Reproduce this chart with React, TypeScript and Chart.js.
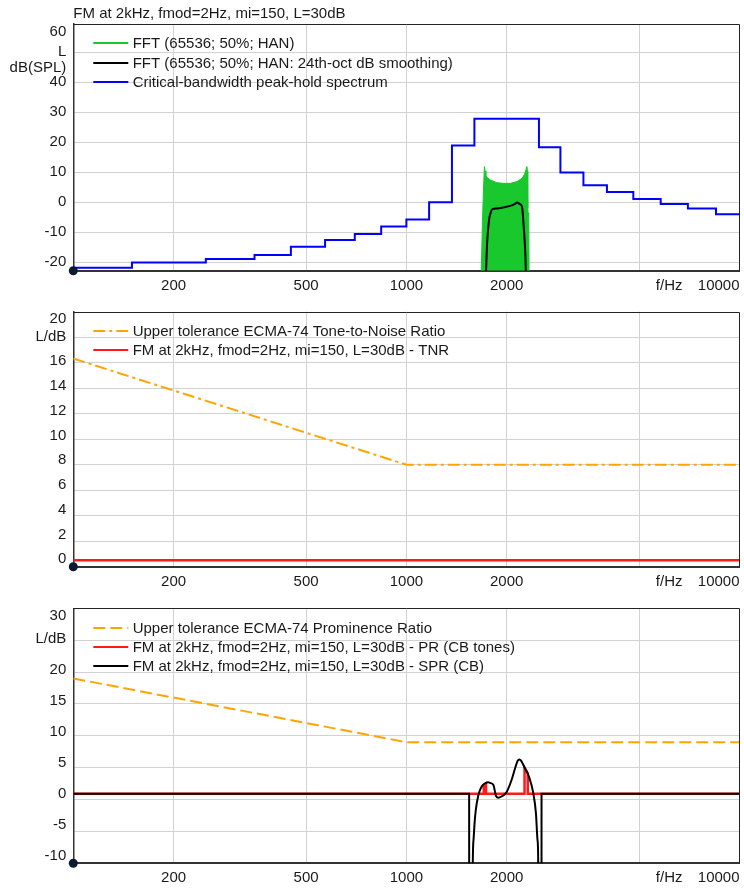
import { useEffect, useRef } from 'react';
import { Chart, registerables } from 'chart.js';

Chart.register(...registerables);

const FONT_FAMILY = '"Liberation Sans", Arial, Helvetica, sans-serif';
const TEXT = '#1a1a1a';
const GRID = '#d2d2d2';
const AXIS = '#333333';
const FRAME = '#222222';
const DOT = '#0c1a33';
const BLUE = '#0000ff';
const GREEN = '#18c82c';
const BLACK = '#000000';
const RED = '#ff1a1a';
const ORANGE = '#ffa500';

// ---------- shared x axis ----------
const X_MIN = 100;
const X_MAX = 10000;
const xGridValues = [200, 500, 1000, 2000, 5000];
const xTickValues = [100, 200, 500, 1000, 2000, 6150, 10000];
const xTickLabels = ['', '200', '500', '1000', '2000', 'f/Hz', '10000'];

// ---------- panel 1 : spectrum ----------
const p1Title = 'FM at 2kHz, fmod=2Hz, mi=150, L=30dB';
const p1YRange = [-22.8, 59.4];
const p1YGrid = [-20, -10, 0, 10, 20, 30, 40, 50];
const p1YTickValues = [-20, -10, 0, 10, 20, 30, 40, 50, 60];
const p1YTickLabels = ['-20', '-10', '0', '10', '20', '30', '40', 'L', '60'];
const p1YUnit = 'dB(SPL)';

const fftLabel = 'FFT (65536; 50%; HAN)';
const fftFreq = [1672, 1692, 1706, 1715, 1722, 1732, 1745, 1788, 1872, 1959, 2051, 2149, 2224, 2262, 2285, 2300, 2308, 2314, 2322, 2330, 2336];
const fftLevel = [-30, -6, 6, 11.9, 10.5, 9.0, 8.3, 7.4, 6.5, 6.3, 6.3, 6.9, 8.0, 9.3, 10.8, 11.9, 10.5, -2, -4, -3.6, -30];

const smoothLabel = 'FFT (65536; 50%; HAN: 24th-oct dB smoothing)';
const smoothFreq = [1726, 1747, 1770, 1788, 1813, 1872, 1959, 2051, 2120, 2149, 2190, 2224, 2250, 2275, 2292];
const smoothLevel = [-30, -13.7, -6, -3.7, -2.3, -2.1, -1.7, -1.2, -0.5, -0.1, -0.6, -1.5, -8.1, -17, -30];

const cbLabel = 'Critical-bandwidth peak-hold spectrum';
const cbFreq = [100, 150, 250, 350, 450, 570, 700, 840, 1000, 1170, 1370, 1600, 2500, 2900, 3400, 4000, 4800, 5800, 7000, 8500, 10000];
const cbLevel = [-21.8, -20.1, -18.9, -17.6, -14.8, -12.6, -10.6, -8.1, -5.7, 0.0, 18.9, 27.8, 18.3, 9.9, 5.7, 3.4, 1.1, -0.6, -2.1, -4.0, -4.0];

// ---------- panel 2 : TNR ----------
const p2YRange = [0, 20];
const p2YGrid = [2, 4, 6, 8, 10, 12, 14, 16, 18];
const p2YTickValues = [0, 2, 4, 6, 8, 10, 12, 14, 16, 18, 20];
const p2YTickLabels = ['0', '2', '4', '6', '8', '10', '12', '14', '16', 'L/dB', '20'];

const tnrTolLabel = 'Upper tolerance ECMA-74 Tone-to-Noise Ratio';
const tolFreq = [100, 1000, 10000];
const tnrTolLevel = [16.33, 8, 8];

const tnrLabel = 'FM at 2kHz, fmod=2Hz, mi=150, L=30dB - TNR';
const tnrFreq = [100, 10000];
const tnrLevel = [0.5, 0.5];

// ---------- panel 3 : PR ----------
const p3YRange = [-10, 30];
const p3YGrid = [-5, 0, 5, 10, 15, 20, 25];
const p3YTickValues = [-10, -5, 0, 5, 10, 15, 20, 25, 30];
const p3YTickLabels = ['-10', '-5', '0', '5', '10', '15', '20', 'L/dB', '30'];

const prTolLabel = 'Upper tolerance ECMA-74 Prominence Ratio';
const prTolLevel = [19, 9, 9];

const prLabel = 'FM at 2kHz, fmod=2Hz, mi=150, L=30dB - PR (CB tones)';
const prFreq = [100, 1706, 1707, 1733, 1734, 2262, 2263, 2313, 2314, 10000];
const prLevel = [0.9, 0.9, 2.3, 2.5, 0.9, 0.9, 5.0, 4.1, 0.9, 0.9];

const sprLabel = 'FM at 2kHz, fmod=2Hz, mi=150, L=30dB - SPR (CB)';
const sprFreq = [100, 1543, 1544, 1578, 1580, 1590, 1603, 1616, 1645, 1684, 1730, 1760, 1784, 1825, 1854, 1889, 1942, 2000, 2070, 2120, 2158, 2185, 2209, 2259, 2333, 2404, 2449, 2476, 2488, 2492, 2544, 2545, 10000];
const sprLevel = [0.9, 0.9, -40, -40, -14, -6.4, -3.5, -1.6, 0.7, 2.1, 2.6, 2.7, 2.6, 2.3, 0.7, 0.3, 0.55, 1.2, 3.1, 4.9, 6.1, 6.3, 6.1, 5.1, 3.6, 1.0, -2.2, -6.4, -10.5, -40, -40, 0.9, 0.9];

// ---------- helpers ----------
const pts = (xs: number[], ys: number[]) => xs.map((x, i) => ({ x, y: ys[i] }));

const framePlugin = {
  id: 'frameTopRight',
  afterDraw(chart: any) {
    const { ctx, chartArea: a } = chart;
    ctx.save();
    ctx.strokeStyle = FRAME;
    ctx.lineWidth = 1;
    ctx.beginPath();
    const t = Math.round(a.top) + 0.5;
    const r = Math.round(a.right) - 0.5;
    ctx.moveTo(a.left, t);
    ctx.lineTo(r, t);
    ctx.lineTo(r, a.bottom);
    ctx.stroke();
    ctx.restore();
  },
};

const legendPlugin = {
  id: 'insideLegend',
  afterDatasetsDraw(chart: any) {
    const { ctx, chartArea } = chart;
    const items = chart.data.datasets
      .filter((d: any) => d.label)
      .slice()
      .sort((a: any, b: any) => a.legendRank - b.legendRank);
    ctx.save();
    items.forEach((d: any, i: number) => {
      const y = Math.round(chartArea.top + 19.3 + i * 19.3);
      ctx.beginPath();
      ctx.setLineDash(d.borderDash || []);
      ctx.lineWidth = 2;
      ctx.strokeStyle = d.borderColor;
      ctx.moveTo(chartArea.left + 20, y);
      ctx.lineTo(chartArea.left + 55, y);
      ctx.stroke();
      ctx.setLineDash([]);
      ctx.fillStyle = TEXT;
      ctx.font = `15px ${FONT_FAMILY}`;
      ctx.textBaseline = 'middle';
      ctx.textAlign = 'left';
      ctx.fillText(d.label, chartArea.left + 59.4, y + 0.5);
    });
    ctx.restore();
  },
};

function buildXTicks() {
  const vals = Array.from(new Set([...xGridValues, ...xTickValues])).sort((a, b) => a - b);
  return vals.map((v) => {
    const li = xTickValues.indexOf(v);
    return { value: v, grid: xGridValues.includes(v), text: li >= 0 ? xTickLabels[li] : '' };
  });
}

function buildYTicks(s: any, H: number) {
  const [yMin, yMax] = s.yRange;
  const span = yMax - yMin;
  const inset = s.labelInset / H;
  const clamp = (span * 7.5) / H;
  const place = (v: number) => {
    const u = yMin + span * inset + (v - yMin) * (1 - inset);
    return Math.min(yMax - clamp, Math.max(yMin + clamp, u));
  };
  const ticks: any[] = s.yGrid.map((v: number) => ({ value: v, grid: true, text: '' }));
  s.yTickValues.forEach((v: number, i: number) => ticks.push({ value: place(v), grid: false, text: s.yTickLabels[i] }));
  if (s.yUnit) {
    ticks.push({ value: place(s.yUnitAt) - (span * 16) / H, grid: false, text: s.yUnit });
  }
  return ticks.sort((a, b) => a.value - b.value);
}

function buildConfig(s: any) {
  const titleH = s.title ? 24 : 0;
  const H = s.height - s.padTop - titleH - s.axisH;
  const yTicks = buildYTicks(s, H);
  const xTicks = buildXTicks();
  const font = { family: FONT_FAMILY, size: 15 };
  const gridColor = (c: any) => (c.tick && c.tick.grid ? GRID : 'rgba(0,0,0,0)');
  const dot = {
    data: [{ x: X_MIN, y: s.yRange[0] }],
    showLine: false,
    pointRadius: 4.5,
    pointBackgroundColor: DOT,
    pointBorderColor: DOT,
    pointBorderWidth: 0,
    borderColor: DOT,
    clip: false,
  };
  return {
    type: 'line',
    data: { datasets: [dot, ...s.datasets] },
    options: {
      animation: false,
      responsive: false,
      events: [],
      layout: { padding: { top: s.padTop, right: 2, left: 0, bottom: 0 } },
      elements: { point: { radius: 0 }, line: { borderCapStyle: 'butt' } },
      plugins: {
        legend: { display: false },
        tooltip: { enabled: false },
        title: s.title
          ? {
              display: true,
              text: s.title,
              align: 'start',
              fullSize: false,
              color: TEXT,
              font: { family: FONT_FAMILY, size: 15, weight: 'normal' },
              padding: { top: 5, bottom: 1 },
            }
          : { display: false },
      },
      scales: {
        x: {
          type: 'logarithmic',
          min: X_MIN,
          max: X_MAX,
          bounds: 'data',
          afterBuildTicks: (scale: any) => {
            scale.ticks = xTicks.map((t) => ({ ...t }));
          },
          afterFit: (scale: any) => {
            scale.height = s.axisH;
          },
          ticks: {
            autoSkip: false,
            maxRotation: 0,
            minRotation: 0,
            align: 'inner',
            padding: 0,
            color: TEXT,
            font,
            callback: (_v: any, i: number, ticks: any[]) => ticks[i].text,
          },
          grid: { color: gridColor, lineWidth: 1, drawTicks: true, tickLength: 6, tickColor: 'rgba(0,0,0,0)' },
          border: { display: true, color: AXIS, width: 2 },
        },
        y: {
          type: 'linear',
          min: s.yRange[0],
          max: s.yRange[1],
          bounds: 'data',
          grace: 0,
          afterBuildTicks: (scale: any) => {
            scale.ticks = yTicks.map((t) => ({ ...t }));
          },
          afterFit: (scale: any) => {
            scale.width = 73.3;
          },
          ticks: {
            autoSkip: false,
            padding: 0,
            color: TEXT,
            font,
            callback: (_v: any, i: number, ticks: any[]) => ticks[i].text,
          },
          grid: { color: gridColor, lineWidth: 1, drawTicks: true, tickLength: 7, tickColor: 'rgba(0,0,0,0)' },
          border: { display: true, color: AXIS, width: 1.5 },
        },
      },
    },
    plugins: [framePlugin, legendPlugin],
  };
}

const panels = [
  {
    top: 0,
    height: 294,
    padTop: 0,
    axisH: 23.3,
    title: p1Title,
    yRange: p1YRange,
    yGrid: p1YGrid,
    yTickValues: p1YTickValues,
    yTickLabels: p1YTickLabels,
    yUnit: p1YUnit,
    yUnitAt: 50,
    labelInset: 0,
    datasets: [
      {
        label: smoothLabel,
        legendRank: 1,
        data: pts(smoothFreq, smoothLevel),
        borderColor: BLACK,
        borderWidth: 2,
        cubicInterpolationMode: 'monotone',
      },
      {
        label: fftLabel,
        legendRank: 0,
        data: pts(fftFreq, fftLevel),
        borderColor: GREEN,
        backgroundColor: GREEN,
        borderWidth: 1,
        fill: 'start',
      },
      {
        label: cbLabel,
        legendRank: 2,
        data: pts(cbFreq, cbLevel),
        borderColor: BLUE,
        borderWidth: 2,
        stepped: 'before',
      },
    ],
  },
  {
    top: 294,
    height: 296,
    padTop: 17.7,
    axisH: 23.3,
    yRange: p2YRange,
    yGrid: p2YGrid,
    yTickValues: p2YTickValues,
    yTickLabels: p2YTickLabels,
    labelInset: 7.3,
    datasets: [
      {
        label: tnrLabel,
        legendRank: 1,
        data: pts(tnrFreq, tnrLevel),
        borderColor: RED,
        borderWidth: 2.5,
      },
      {
        label: tnrTolLabel,
        legendRank: 0,
        data: pts(tolFreq, tnrTolLevel),
        borderColor: ORANGE,
        borderWidth: 2,
        borderDash: [12, 4, 3, 4],
      },
    ],
  },
  {
    top: 590,
    height: 298,
    padTop: 18.3,
    axisH: 24.7,
    yRange: p3YRange,
    yGrid: p3YGrid,
    yTickValues: p3YTickValues,
    yTickLabels: p3YTickLabels,
    labelInset: 7.3,
    datasets: [
      {
        label: sprLabel,
        legendRank: 2,
        data: pts(sprFreq, sprLevel),
        borderColor: BLACK,
        borderWidth: 2,
        cubicInterpolationMode: 'monotone',
      },
      {
        label: prLabel,
        legendRank: 1,
        data: pts(prFreq, prLevel),
        borderColor: RED,
        borderWidth: 2.5,
      },
      {
        label: prTolLabel,
        legendRank: 0,
        data: pts(tolFreq, prTolLevel),
        borderColor: ORANGE,
        borderWidth: 2,
        borderDash: [12, 5],
      },
    ],
  },
];

function Panel({ spec }: { spec: any }) {
  const ref = useRef<HTMLCanvasElement | null>(null);
  useEffect(() => {
    if (!ref.current) return;
    const chart = new Chart(ref.current, buildConfig(spec) as any);
    return () => chart.destroy();
  }, [spec]);
  return (
    <canvas
      ref={ref}
      width={744}
      height={spec.height}
      style={{ position: 'absolute', left: 0, top: spec.top, width: 744, height: spec.height }}
    />
  );
}

export default function App() {
  return (
    <div style={{ position: 'absolute', left: 0, top: 0, width: 744, height: 888, background: '#ffffff' }}>
      {panels.map((p, i) => (
        <Panel key={i} spec={p} />
      ))}
    </div>
  );
}
